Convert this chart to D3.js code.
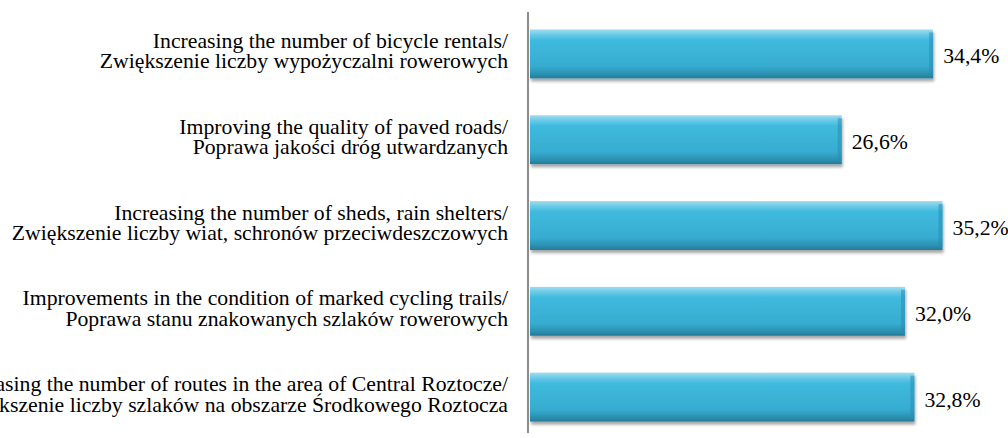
<!DOCTYPE html>
<html>
<head>
<meta charset="utf-8">
<script src="https://cdn.jsdelivr.net/npm/d3@7"></script>
<style>
  body { margin: 0; background: #fff; }
  svg { display: block; }
</style>
</head>
<body>
<script>
// Categories (English / Polish) and survey values (%)
var labelsEn = [
  "Increasing the number of bicycle rentals/",
  "Improving the quality of paved roads/",
  "Increasing the number of sheds, rain shelters/",
  "Improvements in the condition of marked cycling trails/",
  "Increasing the number of routes in the area of Central Roztocze/"
];
var labelsPl = [
  "Zwiększenie liczby wypożyczalni rowerowych",
  "Poprawa jakości dróg utwardzanych",
  "Zwiększenie liczby wiat, schronów przeciwdeszczowych",
  "Poprawa stanu znakowanych szlaków rowerowych",
  "Zwiększenie liczby szlaków na obszarze Środkowego Roztocza"
];
var values = [34.4, 26.6, 35.2, 32.0, 32.8];

var width = 1008, height = 438;
var axisX = 528;
var font = "'Liberation Serif', 'Times New Roman', Times, serif";

var svg = d3.select("body").append("svg")
    .attr("width", width)
    .attr("height", height)
    .style("font-family", font);

var defs = svg.append("defs");
var grad = defs.append("linearGradient")
    .attr("id", "barGrad")
    .attr("x1", 0).attr("y1", 0).attr("x2", 0).attr("y2", 1);
grad.append("stop").attr("offset", "0%").attr("stop-color", "#a3dcef");
grad.append("stop").attr("offset", "10%").attr("stop-color", "#6ccbe8");
grad.append("stop").attr("offset", "22%").attr("stop-color", "#3fbade");
grad.append("stop").attr("offset", "75%").attr("stop-color", "#36acd0");
grad.append("stop").attr("offset", "92%").attr("stop-color", "#2b8fb0");
grad.append("stop").attr("offset", "100%").attr("stop-color", "#237a98");

var shadow = defs.append("filter").attr("id", "shadow")
    .attr("x", "-5%").attr("y", "-20%").attr("width", "110%").attr("height", "150%");
shadow.append("feDropShadow")
    .attr("dx", 1).attr("dy", 3).attr("stdDeviation", 1.5)
    .attr("flood-color", "#000").attr("flood-opacity", 0.35);

var idx = d3.range(values.length);

var x = d3.scaleLinear()
    .domain([0, 40])
    .range([axisX + 2, axisX + 2 + 40 * 11.72]);

var y = d3.scaleBand()
    .domain(idx)
    .range([11, 440])
    .paddingInner(0.43)
    .paddingOuter(0.215);

var bars = svg.selectAll("g.bar")
  .data(idx)
  .enter()
  .append("g")
    .attr("class", "bar");

bars.append("rect")
    .attr("x", x(0))
    .attr("y", function(i) { return y(i); })
    .attr("width", function(i) { return x(values[i]) - x(0); })
    .attr("height", y.bandwidth())
    .attr("fill", "url(#barGrad)")
    .attr("filter", "url(#shadow)");

// bevel on right edge
bars.append("rect")
    .attr("x", function(i) { return x(values[i]) - 4; })
    .attr("y", function(i) { return y(i) + 3; })
    .attr("width", 4)
    .attr("height", y.bandwidth() - 6)
    .attr("fill", "#2a8db0")
    .attr("opacity", 0.55);

// value labels (slightly wide glyphs, as in the source image)
bars.append("text")
    .attr("transform", function(i) {
      return "translate(" + (x(values[i]) + 10) + "," + (y(i) + y.bandwidth() / 2 + 9.5) + ") scale(1.06,1)";
    })
    .attr("font-size", 20.5)
    .attr("fill", "#000")
    .text(function(i) { return values[i].toFixed(1).replace(".", ",") + "%"; });

// category labels
var lab = bars.append("text")
    .attr("text-anchor", "end")
    .attr("font-size", 20.4)
    .attr("fill", "#000")
    .attr("transform", function(i) {
      return "translate(508," + (y(i) + y.bandwidth() / 2) + ") scale(1.065,1)";
    });
lab.append("tspan")
    .attr("x", 0)
    .attr("y", -6)
    .text(function(i) { return labelsEn[i]; });
lab.append("tspan")
    .attr("x", 0)
    .attr("y", 14.5)
    .text(function(i) { return labelsPl[i]; });

// vertical axis line
svg.append("line")
    .attr("x1", axisX).attr("x2", axisX)
    .attr("y1", 12).attr("y2", 433)
    .attr("stroke", "#8c8c8c")
    .attr("stroke-width", 2);
</script>
</body>
</html>
